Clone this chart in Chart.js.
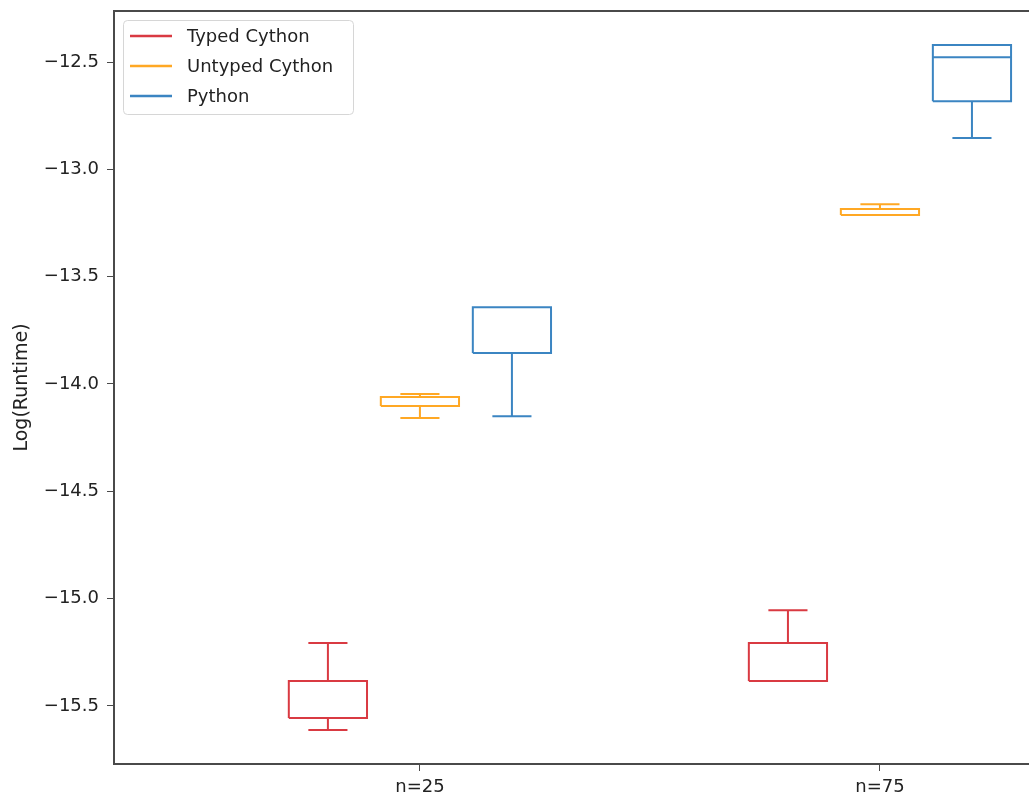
<!DOCTYPE html>
<html>
<head>
<meta charset="utf-8">
<script src="https://cdn.jsdelivr.net/npm/chart.js@4.4.0/dist/chart.umd.min.js"></script>
<style>
  html, body { margin: 0; padding: 0; background: #fff; overflow: hidden; }
</style>
</head>
<body>
<canvas id="boxChart" width="1029" height="797"></canvas>
<script>
// groups on the x axis
const groups = ['n=25', 'n=75']
const groupPos = [1, 2]

const seriesNames = ['Typed Cython', 'Untyped Cython', 'Python']
const seriesColors = ['#d93a42', '#ffa824', '#3b85c2']
const seriesOffset = [-0.2, 0, 0.2]

// [low whisker, q1, median, q3, high whisker] for n=25 and n=75
const typedCython = [
  [-15.613, -15.557, -15.557, -15.384, -15.207],
  [-15.384, -15.384, -15.384, -15.207, -15.054]
]
const untypedCython = [
  [-14.159, -14.103, -14.103, -14.061, -14.047],
  [-13.213, -13.213, -13.213, -13.185, -13.162]
]
const python = [
  [-14.150, -13.856, -13.856, -13.642, -13.642],
  [-12.854, -12.682, -12.477, -12.421, -12.421]
]

const yTicks = [-15.5, -15.0, -14.5, -14.0, -13.5, -13.0, -12.5]
const yMin = -15.771
const yMax = -12.262
const xMin = 0.335
const xMax = 2.324

const boxHalf = 0.085
const capHalf = 0.0425

Chart.defaults.font.family = '"DejaVu Sans", sans-serif'

// turn box stats into line segments (null breaks the line)
function boxLines(stats, offset) {
  const pts = []
  for (let g = 0; g < stats.length; g++) {
    const x = groupPos[g] + offset
    const [lo, q1, med, q3, hi] = stats[g]
    const gap = {x: x, y: null}
    pts.push({x: x - boxHalf, y: q1}, {x: x + boxHalf, y: q1}, {x: x + boxHalf, y: q3},
             {x: x - boxHalf, y: q3}, {x: x - boxHalf, y: q1}, gap)
    pts.push({x: x - boxHalf, y: med}, {x: x + boxHalf, y: med}, gap)
    pts.push({x: x, y: q1}, {x: x, y: lo}, gap)
    pts.push({x: x - capHalf, y: lo}, {x: x + capHalf, y: lo}, gap)
    pts.push({x: x, y: q3}, {x: x, y: hi}, gap)
    pts.push({x: x - capHalf, y: hi}, {x: x + capHalf, y: hi}, gap)
  }
  return pts
}

const allStats = [typedCython, untypedCython, python]
const datasets = allStats.map((s, i) => ({
  label: seriesNames[i],
  data: boxLines(s, seriesOffset[i]),
  showLine: true,
  spanGaps: false,
  borderColor: seriesColors[i],
  backgroundColor: seriesColors[i],
  borderWidth: 2,
  pointRadius: 0,
  borderJoinStyle: 'miter'
}))

// matplotlib style legend inside the axes
const innerLegend = {
  id: 'innerLegend',
  afterDatasetsDraw(chart) {
    const ctx = chart.ctx
    const a = chart.chartArea
    const x0 = a.left + 9, y0 = a.top + 9
    ctx.save()
    ctx.beginPath()
    ctx.roundRect(x0 + 0.5, y0 + 0.5, 230, 94, 4)
    ctx.fillStyle = 'rgba(255,255,255,0.8)'
    ctx.fill()
    ctx.strokeStyle = '#d6d6d6'
    ctx.lineWidth = 1
    ctx.stroke()
    ctx.font = '18px "DejaVu Sans"'
    ctx.textBaseline = 'middle'
    chart.data.datasets.forEach((ds, i) => {
      const y = y0 + 16 + i * 30
      ctx.strokeStyle = ds.borderColor
      ctx.lineWidth = 2.5
      ctx.beginPath()
      ctx.moveTo(x0 + 7, y)
      ctx.lineTo(x0 + 49, y)
      ctx.stroke()
      ctx.fillStyle = '#222'
      ctx.fillText(ds.label, x0 + 64, y + 1)
    })
    ctx.restore()
  }
}

const spine = {color: '#4a4a4a', width: 2}

new Chart(document.getElementById('boxChart'), {
  type: 'scatter',
  data: { datasets: datasets },
  plugins: [innerLegend],
  options: {
    responsive: false,
    animation: false,
    layout: { padding: { top: 11, left: 0, right: 0, bottom: 0 } },
    plugins: { legend: { display: false }, tooltip: { enabled: false } },
    scales: {
      x: {
        type: 'linear', min: xMin, max: xMax,
        afterBuildTicks: s => { s.ticks = groupPos.map(v => ({value: v})) },
        ticks: { callback: (v, i) => groups[i], font: {size: 18}, color: '#222', padding: 6, maxRotation: 0, autoSkip: false },
        grid: { drawOnChartArea: false, tickLength: 7, color: '#4a4a4a' },
        border: spine,
        afterFit: s => { s.height = 33; s.paddingLeft = 0; s.paddingRight = 0 }
      },
      xTop: {
        type: 'linear', position: 'top', min: xMin, max: xMax, display: true,
        ticks: { display: false },
        grid: { display: false, drawTicks: false },
        border: spine,
        afterFit: s => { s.height = 0 }
      },
      y: {
        type: 'linear', min: yMin, max: yMax,
        afterBuildTicks: s => { s.ticks = yTicks.map(v => ({value: v})) },
        ticks: { callback: v => v.toFixed(1).replace('-', '\u2212'), font: {size: 18}, color: '#222', padding: 8 },
        grid: { drawOnChartArea: false, tickLength: 7, color: '#4a4a4a' },
        border: spine,
        title: { display: true, text: 'Log(Runtime)', font: {size: 19}, color: '#222', padding: {top: 11, bottom: 0} },
        afterFit: s => { s.width = 114; s.paddingTop = 0; s.paddingBottom = 0 }
      }
    }
  }
})
</script>
</body>
</html>
